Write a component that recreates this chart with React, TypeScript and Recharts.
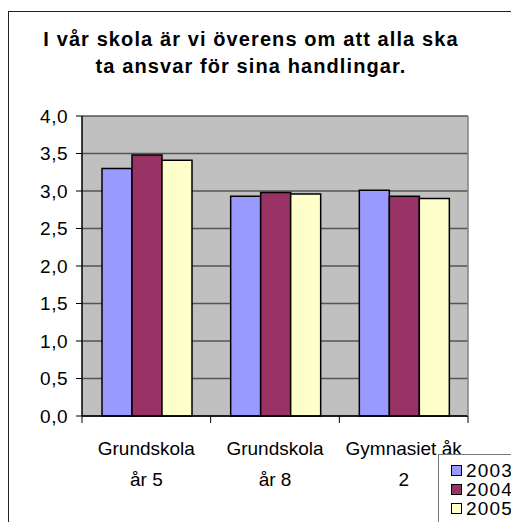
import { Bar, BarChart, CartesianGrid, Legend, XAxis, YAxis } from "recharts";

const categories = ["Grundskola\når 5", "Grundskola\når 8", "Gymnasiet åk\n2"];
const years = ["2003", "2004", "2005"];
const values2003 = [3.3, 2.93, 3.01];
const values2004 = [3.48, 2.98, 2.93];
const values2005 = [3.41, 2.96, 2.9];
const yTicks = [0, 0.5, 1, 1.5, 2, 2.5, 3, 3.5, 4];

const colors = ["#9999FF", "#993366", "#FFFFCC"];
const font = "'Liberation Sans', Arial, sans-serif";

const CHART_W = 511;
const CHART_H = 514;
const MARGIN = { top: 108, right: 43, bottom: 0, left: 0 };
const Y_W = 74;
const Y_RIGHT_W = 8;
const PLOT_W = CHART_W - MARGIN.left - MARGIN.right - Y_W - Y_RIGHT_W;

const data = categories.map((name, i) => ({
  name,
  "2003": values2003[i],
  "2004": values2004[i],
  "2005": values2005[i],
}));

// label in two lines, plus Excel-style tick marks between the categories
function CategoryTick({ x, y, payload, index }: any) {
  const lines = String(payload.value).split("\n");
  const half = PLOT_W / categories.length / 2;
  const last = index === categories.length - 1;
  return (
    <g>
      <line x1={x - half} x2={x - half} y1={y} y2={y + 7} stroke="#000" />
      {last && <line x1={x + half} x2={x + half} y1={y} y2={y + 7} stroke="#000" />}
      {lines.map((line, i) => (
        <text
          key={i}
          x={x}
          y={y + 39 + i * 31}
          textAnchor="middle"
          fontFamily={font}
          fontSize={19}
          fill="#000"
        >
          {line}
        </text>
      ))}
    </g>
  );
}

function YearLegend() {
  return (
    <div
      style={{
        borderLeft: "1px solid #777",
        borderTop: "1px solid #777",
        height: "100%",
        paddingTop: 6,
        paddingLeft: 12,
        boxSizing: "border-box",
      }}
    >
      {years.map((year, i) => (
        <div
          key={year}
          style={{
            display: "flex",
            alignItems: "center",
            height: 19,
            fontFamily: font,
            fontSize: 19,
            letterSpacing: 1.2,
          }}
        >
          <span
            style={{
              width: 9,
              height: 9,
              background: colors[i],
              border: "1.5px solid #000",
              marginRight: 4,
              display: "inline-block",
            }}
          />
          {year}
        </div>
      ))}
    </div>
  );
}

export default function App() {
  return (
    <div style={{ width: CHART_W, height: CHART_H, overflow: "hidden", position: "relative" }}>
      <div
        style={{
          position: "absolute",
          left: 0,
          top: 3,
          width: 600,
          height: 600,
          border: "1px solid #222",
        }}
      />
      <div
        style={{
          position: "absolute",
          left: 0,
          top: 18,
          width: 486,
          textAlign: "center",
          fontFamily: font,
          fontWeight: "bold",
          fontSize: 20,
          letterSpacing: 1.1,
          lineHeight: "27px",
        }}
      >
        I vår skola är vi överens om att alla ska
        <br />
        ta ansvar för sina handlingar.
      </div>
      <BarChart
        width={CHART_W}
        height={CHART_H}
        data={data}
        margin={MARGIN}
        barCategoryGap={20}
        barGap={0}
        style={{ position: "absolute", left: 0, top: 0 }}
      >
        <CartesianGrid
          vertical={false}
          fill="#C0C0C0"
          stroke="#555"
          strokeWidth={1.5}
          horizontalValues={yTicks}
        />
        <XAxis
          dataKey="name"
          height={106}
          axisLine={{ stroke: "#000", strokeWidth: 1.5 }}
          tickLine={false}
          tickSize={0}
          tickMargin={0}
          interval={0}
          tick={<CategoryTick />}
        />
        <YAxis
          domain={[0, 4]}
          ticks={yTicks}
          width={Y_W}
          axisLine={{ stroke: "#000", strokeWidth: 1.5 }}
          tickLine={{ stroke: "#000" }}
          tickSize={6}
          tickMargin={8}
          tickFormatter={(v) => Number(v).toFixed(1).replace(".", ",")}
          tick={{ fontFamily: font, fontSize: 19, fill: "#000", letterSpacing: 0.5 }}
        />
        <YAxis
          yAxisId="right"
          orientation="right"
          width={Y_RIGHT_W}
          domain={[0, 4]}
          tick={false}
          tickLine={false}
          axisLine={{ stroke: "#808080", strokeWidth: 1.5 }}
        />
        <Legend
          layout="vertical"
          align="center"
          verticalAlign="middle"
          content={<YearLegend />}
          wrapperStyle={{ left: 430, top: 446, width: 120, height: 100 }}
        />
        {years.map((year, i) => (
          <Bar
            key={year}
            dataKey={year}
            fill={colors[i]}
            stroke="#000"
            strokeWidth={1.5}
            isAnimationActive={false}
          />
        ))}
      </BarChart>
    </div>
  );
}
